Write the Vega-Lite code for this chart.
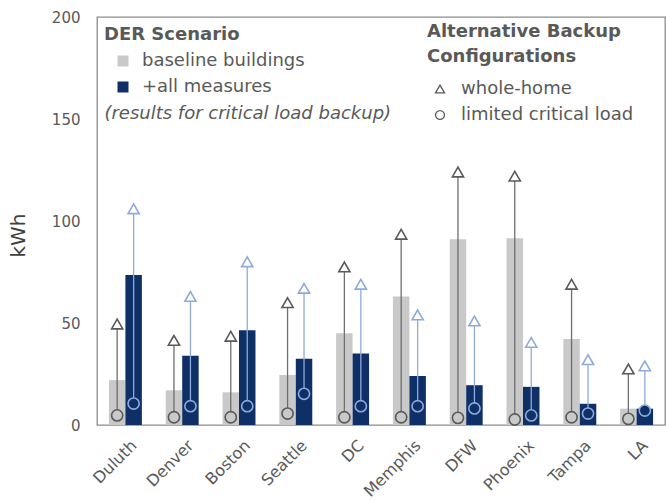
{
  "$schema": "https://vega.github.io/schema/vega-lite/v6.json",
  "width": 568,
  "height": 408,
  "autosize": "none",
  "padding": {"left": 97, "top": 17, "right": 1, "bottom": 75},
  "background": "white",
  "config": {
    "font": "DejaVu Sans",
    "view": {"stroke": "#8c8c8c", "strokeWidth": 1.3},
    "axis": {"grid": false, "ticks": false, "domain": false, "labelColor": "#595959", "titleColor": "#404040"},
    "legend": {
      "padding": 0,
      "titleFontSize": 18,
      "titleFontWeight": "bold",
      "titleColor": "#595959",
      "titleLimit": 400,
      "labelFontSize": 18,
      "labelColor": "#595959",
      "labelLimit": 400,
      "rowPadding": 8,
      "titlePadding": 11
    }
  },
  "datasets": {
    "backup": [
      {"city": "Duluth", "scenario": "baseline buildings", "bar": 22, "whole-home": 49.5, "limited critical load": 4.7},
      {"city": "Duluth", "scenario": "+all measures", "bar": 73.5, "whole-home": 106, "limited critical load": 10.5},
      {"city": "Denver", "scenario": "baseline buildings", "bar": 17, "whole-home": 41.5, "limited critical load": 3.8},
      {"city": "Denver", "scenario": "+all measures", "bar": 34, "whole-home": 63, "limited critical load": 9.2},
      {"city": "Boston", "scenario": "baseline buildings", "bar": 16, "whole-home": 43.5, "limited critical load": 3.8},
      {"city": "Boston", "scenario": "+all measures", "bar": 46.5, "whole-home": 80, "limited critical load": 9.2},
      {"city": "Seattle", "scenario": "baseline buildings", "bar": 24.5, "whole-home": 60, "limited critical load": 5.6},
      {"city": "Seattle", "scenario": "+all measures", "bar": 32.5, "whole-home": 67, "limited critical load": 15.3},
      {"city": "DC", "scenario": "baseline buildings", "bar": 45, "whole-home": 77.5, "limited critical load": 3.8},
      {"city": "DC", "scenario": "+all measures", "bar": 35, "whole-home": 69, "limited critical load": 9.2},
      {"city": "Memphis", "scenario": "baseline buildings", "bar": 63, "whole-home": 93.5, "limited critical load": 3.8},
      {"city": "Memphis", "scenario": "+all measures", "bar": 24, "whole-home": 54, "limited critical load": 9.2},
      {"city": "DFW", "scenario": "baseline buildings", "bar": 91, "whole-home": 124, "limited critical load": 3.5},
      {"city": "DFW", "scenario": "+all measures", "bar": 19.5, "whole-home": 51, "limited critical load": 8.1},
      {"city": "Phoenix", "scenario": "baseline buildings", "bar": 91.5, "whole-home": 122, "limited critical load": 2.7},
      {"city": "Phoenix", "scenario": "+all measures", "bar": 18.7, "whole-home": 40.5, "limited critical load": 4.7},
      {"city": "Tampa", "scenario": "baseline buildings", "bar": 42.2, "whole-home": 69, "limited critical load": 3.8},
      {"city": "Tampa", "scenario": "+all measures", "bar": 10.4, "whole-home": 32, "limited critical load": 5.6},
      {"city": "LA", "scenario": "baseline buildings", "bar": 8, "whole-home": 27.5, "limited critical load": 3},
      {"city": "LA", "scenario": "+all measures", "bar": 8, "whole-home": 29, "limited critical load": 7.1}
    ]
  },
  "layer": [
    {
      "data": {"name": "backup"},
      "mark": {"type": "bar"},
      "encoding": {
        "x": {
          "field": "city", "type": "nominal", "sort": null, "title": null,
          "scale": {"paddingInner": 0.42, "paddingOuter": 0.21},
          "axis": {"labelAngle": -45, "labelFontSize": 16, "labelPadding": 12, "labelOffset": 3}
        },
        "xOffset": {"field": "scenario", "type": "nominal", "scale": {"domain": ["baseline buildings", "+all measures"], "paddingInner": 0, "paddingOuter": 0}},
        "y": {
          "field": "bar", "type": "quantitative", "title": "kWh",
          "scale": {"domain": [0, 200], "nice": false},
          "axis": {"values": [0, 50, 100, 150, 200], "labelFontSize": 15, "labelPadding": 17, "titleFontSize": 20, "titleFontWeight": "normal", "titlePadding": 23, "titleY": 218}
        },
        "color": {
          "field": "scenario", "type": "nominal",
          "scale": {"domain": ["baseline buildings", "+all measures"], "range": ["#c9c9c9", "#0f2f67"]},
          "legend": {"title": "DER Scenario", "orient": "none", "legendX": 7, "legendY": 9, "titlePadding": 8, "symbolType": "square", "symbolSize": 121, "symbolStrokeWidth": 0, "symbolOffset": 10, "labelOffset": 10}
        }
      }
    },
    {
      "data": {"name": "backup"},
      "mark": {"type": "rule", "strokeWidth": 1.3},
      "encoding": {
        "x": {"field": "city", "type": "nominal", "sort": null},
        "xOffset": {"field": "scenario", "type": "nominal"},
        "y": {"field": "limited critical load", "type": "quantitative"},
        "y2": {"field": "whole-home"},
        "stroke": {
          "condition": {"test": "datum.scenario === '+all measures'", "value": "#8eaadb"},
          "value": "#6e6e6e"
        }
      }
    },
    {
      "data": {"name": "backup"},
      "transform": [{"fold": ["whole-home", "limited critical load"], "as": ["config", "kwh"]}],
      "mark": {"type": "point", "filled": false, "size": 125, "strokeWidth": 1.6, "opacity": 1},
      "encoding": {
        "x": {"field": "city", "type": "nominal", "sort": null},
        "xOffset": {"field": "scenario", "type": "nominal"},
        "y": {"field": "kwh", "type": "quantitative"},
        "shape": {
          "field": "config", "type": "nominal",
          "scale": {"domain": ["whole-home", "limited critical load"], "range": ["triangle-up", "circle"]},
          "legend": {
            "title": ["Alternative Backup", "Configurations"], "titleLineHeight": 25, "titlePadding": 14,
            "orient": "none", "legendX": 330, "legendY": 6,
            "symbolSize": 80, "symbolStrokeWidth": 1.3, "symbolOffset": 4, "labelOffset": 12
          }
        },
        "stroke": {
          "condition": {"test": "datum.scenario === '+all measures'", "value": "#8eaadb"},
          "value": "#595959"
        },
        "fill": {
          "condition": [
            {"test": "datum.config === 'limited critical load' && datum.scenario === 'baseline buildings'", "value": "#c9c9c9"},
            {"test": "datum.config === 'limited critical load'", "value": "#0f2f67"}
          ],
          "value": "white"
        }
      }
    },
    {
      "data": {"values": [{}]},
      "mark": {"type": "text", "text": "(results for critical load backup)", "fontStyle": "italic", "fontSize": 18, "color": "#595959", "align": "left", "baseline": "alphabetic", "dx": -21},
      "encoding": {
        "x": {"datum": "Duluth", "type": "nominal"},
        "y": {"datum": 150, "type": "quantitative"}
      }
    }
  ]
}
